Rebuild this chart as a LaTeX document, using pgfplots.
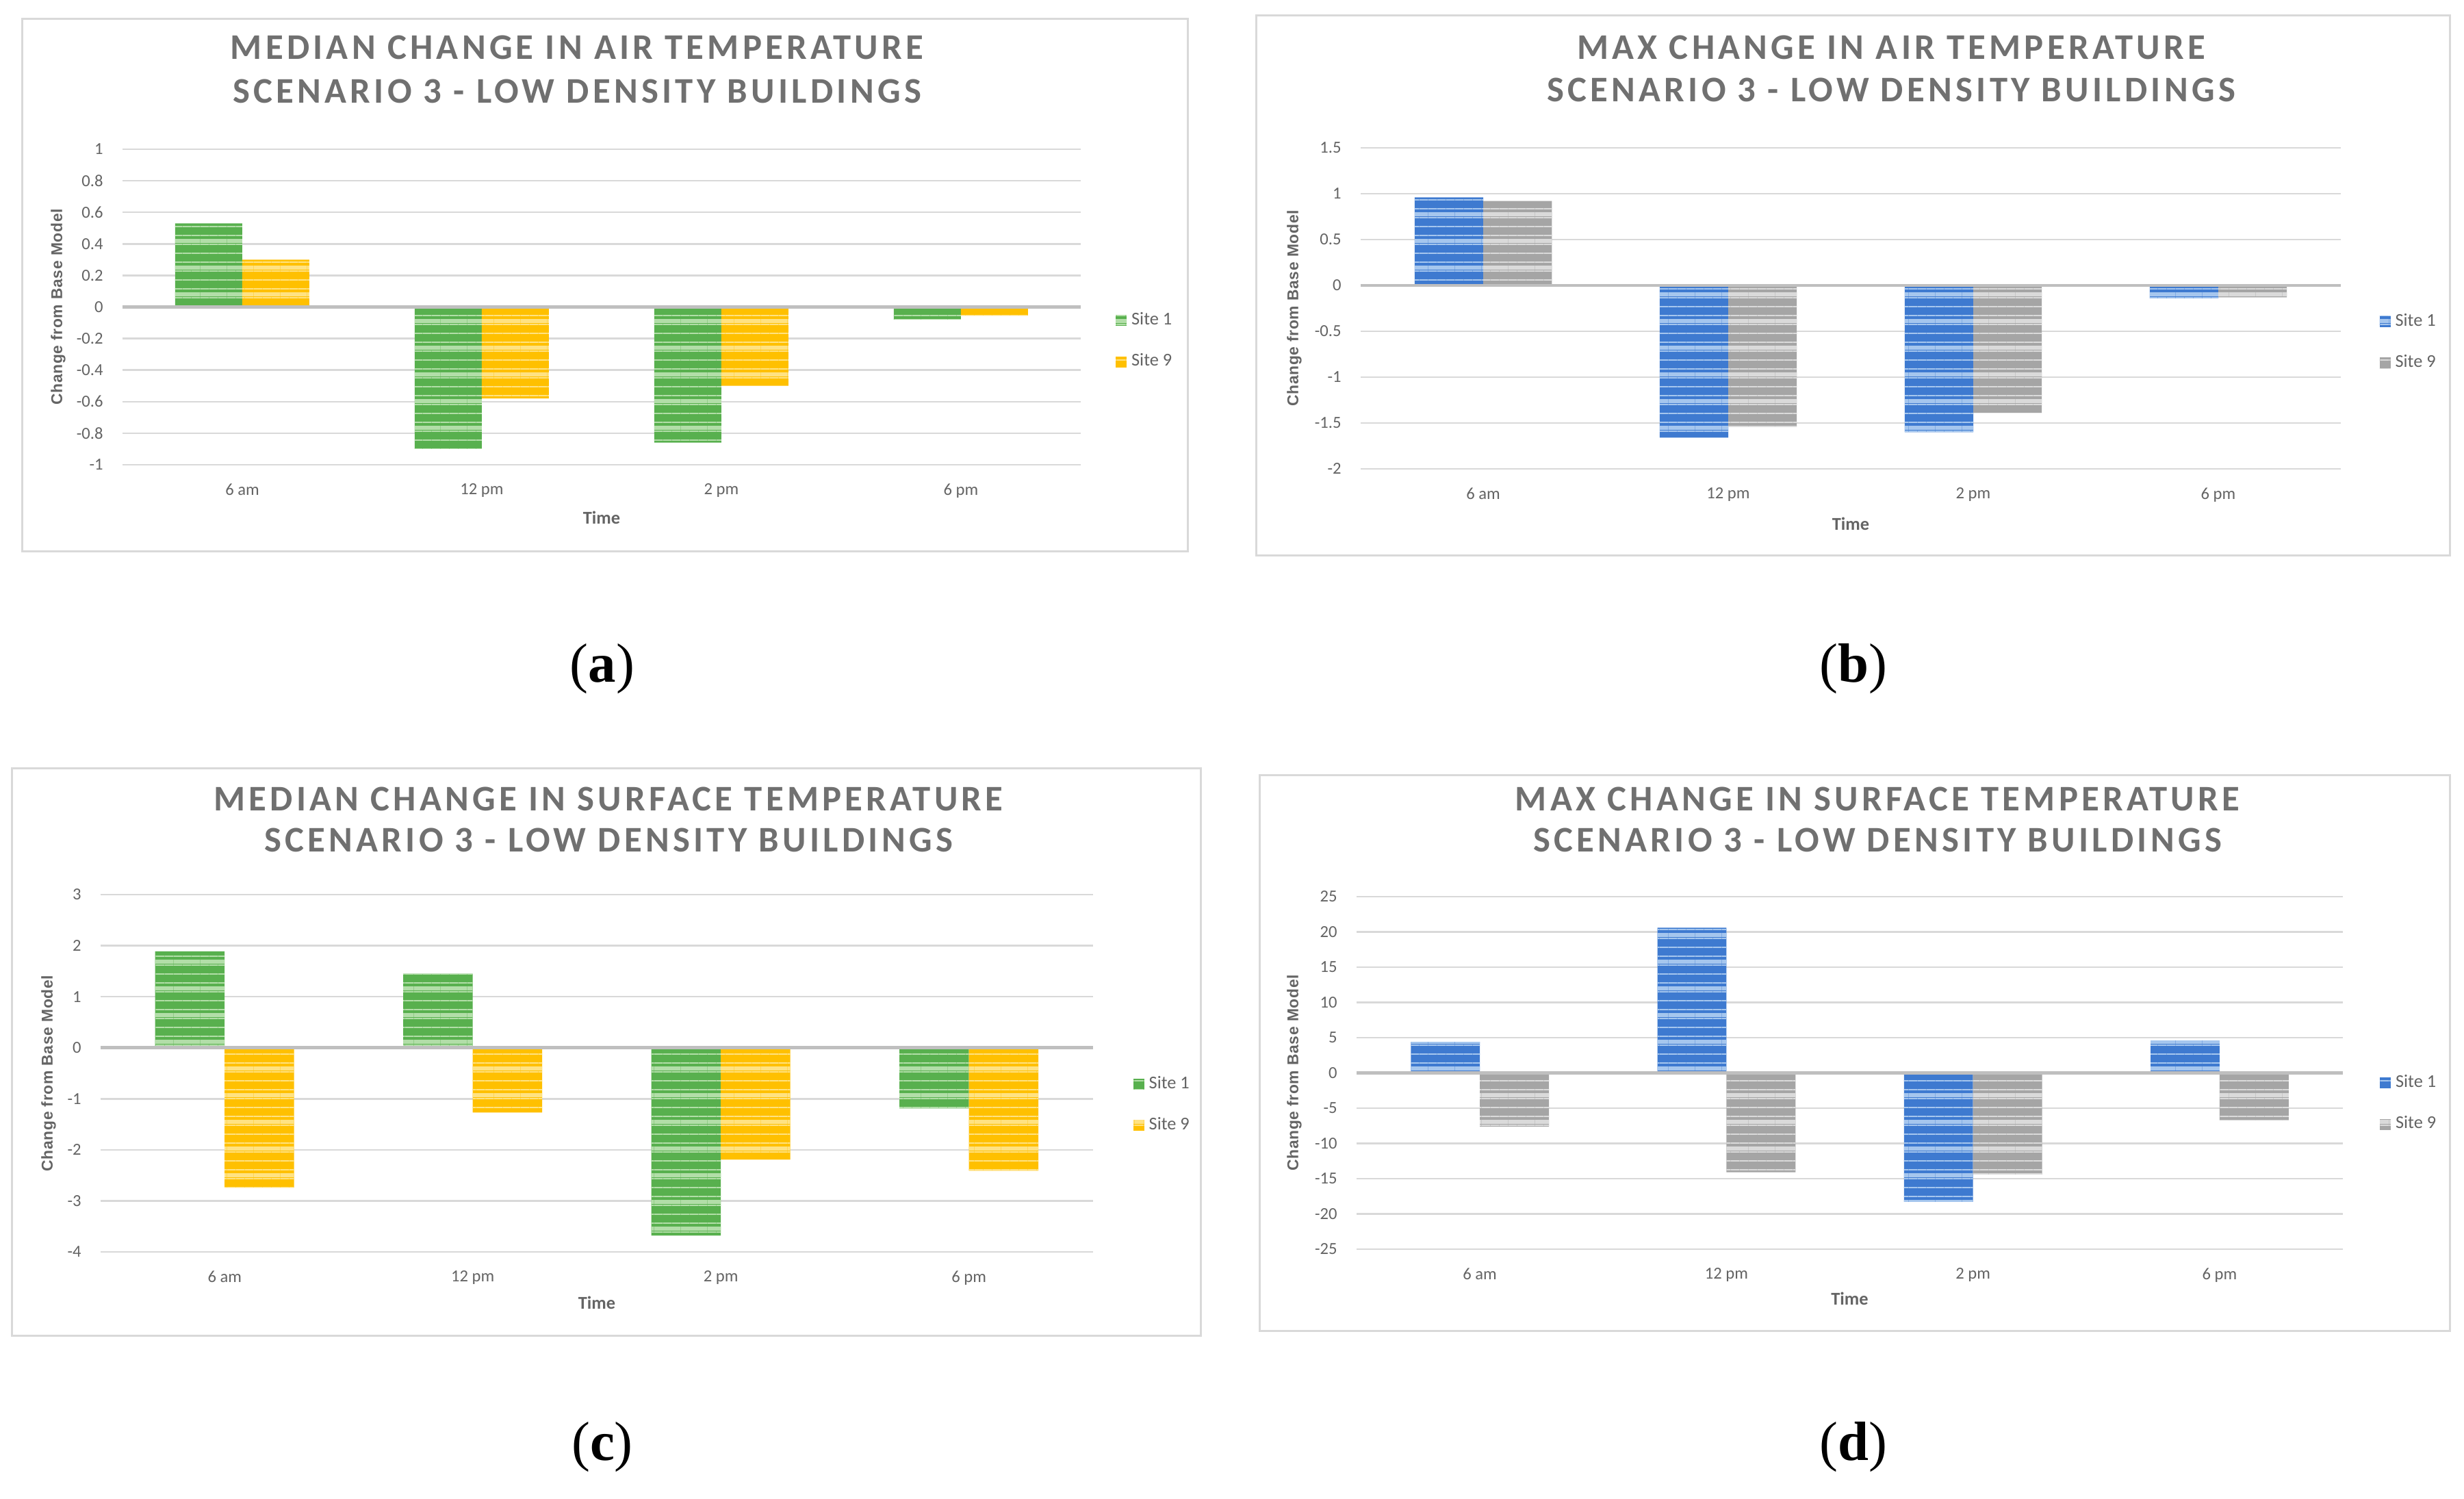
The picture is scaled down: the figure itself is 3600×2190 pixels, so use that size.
\documentclass[border=0pt]{standalone}
\usepackage{fontspec}
\setmainfont{Carlito}
\newfontfamily\titlefont[LetterSpace=10]{Carlito}
\newfontfamily\ylabfont[LetterSpace=3]{Liberation Sans}
\newfontfamily\capfont{Liberation Serif}
\usepackage{pgfplots}
\pgfplotsset{compat=1.18}
\usetikzlibrary{patterns.meta}
\definecolor{greenc}{RGB}{88,176,78}
\definecolor{greenl}{RGB}{178,222,168}
\definecolor{yellowc}{RGB}{255,192,0}
\definecolor{yellowl}{RGB}{255,226,130}
\definecolor{bluec}{RGB}{62,122,208}
\definecolor{bluel}{RGB}{165,198,238}
\definecolor{grayc}{RGB}{165,165,165}
\definecolor{grayl}{RGB}{218,218,218}
\definecolor{gridc}{RGB}{217,217,217}
\definecolor{zeroc}{RGB}{191,191,191}
\definecolor{framec}{RGB}{217,217,217}
\definecolor{tickc}{RGB}{100,100,100}
\definecolor{titlec}{RGB}{112,112,112}
\pgfplotsset{
  chart/.style={
    scale only axis, xmin=-0.5, xmax=3.5, xtick={0,1,2,3},
    xticklabels={6 am,12 pm,2 pm,6 pm},
    axis line style={draw=none}, major tick length=0pt, ymajorgrids,
    grid style={draw=gridc, line width=0.25mm},
    tick label style={font=\fontsize{7}{8}\selectfont, text=tickc},
    /pgf/number format/assume math mode=true, /pgf/number format/fixed,
    yticklabel style={xshift=-1.6mm},
    xticklabel style={yshift=-1.5mm},
    legend style={draw=none, fill=none, inner sep=0pt, anchor=west,
      font=\fontsize{7.5}{8}\selectfont, text=tickc, row sep=2.3mm},
    legend cell align=left, clip=false,
  },
  ylab/.style={every axis y label/.style={at={(rel axis cs:0,0.5)}, xshift=#1, rotate=90, anchor=center,
      font=\ylabfont\bfseries\fontsize{6.5}{8}\selectfont, text=tickc}},
  xlab/.style={every axis x label/.style={at={(rel axis cs:0.5,0)}, yshift=#1, anchor=center,
      font=\bfseries\fontsize{7.5}{9}\selectfont, text=tickc}},
  barL/.style={ybar, bar width=0.28, bar shift=-0.14, draw=none, fill=#1c,
    postaction={pattern={Lines[angle=0,distance=1.3mm,line width=0.22mm]}, pattern color=#1l},
    postaction={pattern={Lines[angle=0,distance=3.9mm,line width=0.6mm,yshift=0.5mm]}, pattern color=#1l},
    legend image code/.code={\fill[#1c] (0mm,-0.8mm) rectangle (1.6mm,0.8mm);}},
  barR/.style={ybar, bar width=0.28, bar shift=0.14, draw=none, fill=#1c,
    postaction={pattern={Lines[angle=0,distance=1.3mm,line width=0.22mm]}, pattern color=#1l},
    postaction={pattern={Lines[angle=0,distance=3.9mm,line width=0.6mm,yshift=0.5mm]}, pattern color=#1l},
    legend image code/.code={\fill[#1c] (0mm,-0.8mm) rectangle (1.6mm,0.8mm);}},
}
\newcommand{\zeroline}{\draw[zeroc, line width=0.45mm] (axis cs:-0.5,0) -- (axis cs:3.5,0);}
\begin{document}
\begin{tikzpicture}
\begin{scope}[x=0.1mm,y=0.1mm]
\fill[white] (0,0) rectangle (3600,2190);
\draw[framec, line width=0.3mm] (32,1384) rectangle (1735,2162);
\draw[framec, line width=0.3mm] (1835,1378) rectangle (3579,2167);
\draw[framec, line width=0.3mm] (17,238) rectangle (1754,1067);
\draw[framec, line width=0.3mm] (1840,245) rectangle (3579,1057);
\begin{scope}[font=\titlefont\bfseries\fontsize{15}{17}\selectfont, text=titlec]
\node at (843,2121) {MEDIAN CHANGE IN AIR TEMPERATURE};
\node at (843,2057) {SCENARIO 3 - LOW DENSITY BUILDINGS};
\node at (2763,2121) {MAX CHANGE IN AIR TEMPERATURE};
\node at (2763,2059) {SCENARIO 3 - LOW DENSITY BUILDINGS};
\node at (889,1023) {MEDIAN CHANGE IN SURFACE TEMPERATURE};
\node at (889,963) {SCENARIO 3 - LOW DENSITY BUILDINGS};
\node at (2743,1023) {MAX CHANGE IN SURFACE TEMPERATURE};
\node at (2743,963) {SCENARIO 3 - LOW DENSITY BUILDINGS};
\end{scope}
\begin{scope}[font=\capfont\fontsize{23}{24}\selectfont]
\node at (880,1213) {(\textbf{a})};
\node at (2708,1213) {(\textbf{b})};
\node at (880,76) {(\textbf{c})};
\node at (2708,76) {(\textbf{d})};
\end{scope}
\end{scope}

% (a)
\begin{axis}[chart, at={(17.9mm,151.1mm)}, anchor=south west, width=140mm, height=46.1mm,
  ymin=-1, ymax=1, ytick={-1,-0.8,...,1.01}, ylab=-9.4mm, xlab=-7.7mm,
  xlabel={Time}, ylabel={Change from Base Model},
  legend style={at={(1.036,0.392)}}]
\addplot[barL=green] coordinates {(0,0.53) (1,-0.90) (2,-0.86) (3,-0.08)};
\addplot[barR=yellow] coordinates {(0,0.30) (1,-0.58) (2,-0.50) (3,-0.055)};
\legend{Site 1, Site 9}
\zeroline
\end{axis}

% (b)
\begin{axis}[chart, at={(198.8mm,150.5mm)}, anchor=south west, width=143.2mm, height=46.9mm,
  ymin=-2, ymax=1.5, ytick={-2,-1.5,...,1.51}, ylab=-9.7mm, xlab=-8.0mm,
  xlabel={Time}, ylabel={Change from Base Model},
  legend style={at={(1.039,0.394)}}]
\addplot[barL=blue] coordinates {(0,0.96) (1,-1.66) (2,-1.60) (3,-0.14)};
\addplot[barR=gray] coordinates {(0,0.92) (1,-1.54) (2,-1.39) (3,-0.13)};
\legend{Site 1, Site 9}
\zeroline
\end{axis}

% (c)
\begin{axis}[chart, at={(14.7mm,36.1mm)}, anchor=south west, width=145mm, height=52.2mm,
  ymin=-4, ymax=3, ytick={-4,-3,...,3}, ylab=-7.6mm, xlab=-7.4mm,
  xlabel={Time}, ylabel={Change from Base Model},
  legend style={at={(1.040,0.412)}}]
\addplot[barL=green] coordinates {(0,1.89) (1,1.45) (2,-3.68) (3,-1.19)};
\addplot[barR=yellow] coordinates {(0,-2.74) (1,-1.27) (2,-2.19) (3,-2.41)};
\legend{Site 1, Site 9}
\zeroline
\end{axis}

% (d)
\begin{axis}[chart, at={(198.2mm,36.5mm)}, anchor=south west, width=144.1mm, height=51.5mm,
  ymin=-25, ymax=25, ytick={-25,-20,...,25}, ylab=-9.1mm, xlab=-7.2mm,
  xlabel={Time}, ylabel={Change from Base Model},
  legend style={at={(1.037,0.413)}}]
\addplot[barL=blue] coordinates {(0,4.4) (1,20.6) (2,-18.3) (3,4.6)};
\addplot[barR=gray] coordinates {(0,-7.6) (1,-14.1) (2,-14.4) (3,-6.7)};
\legend{Site 1, Site 9}
\zeroline
\end{axis}
\end{tikzpicture}
\end{document}
